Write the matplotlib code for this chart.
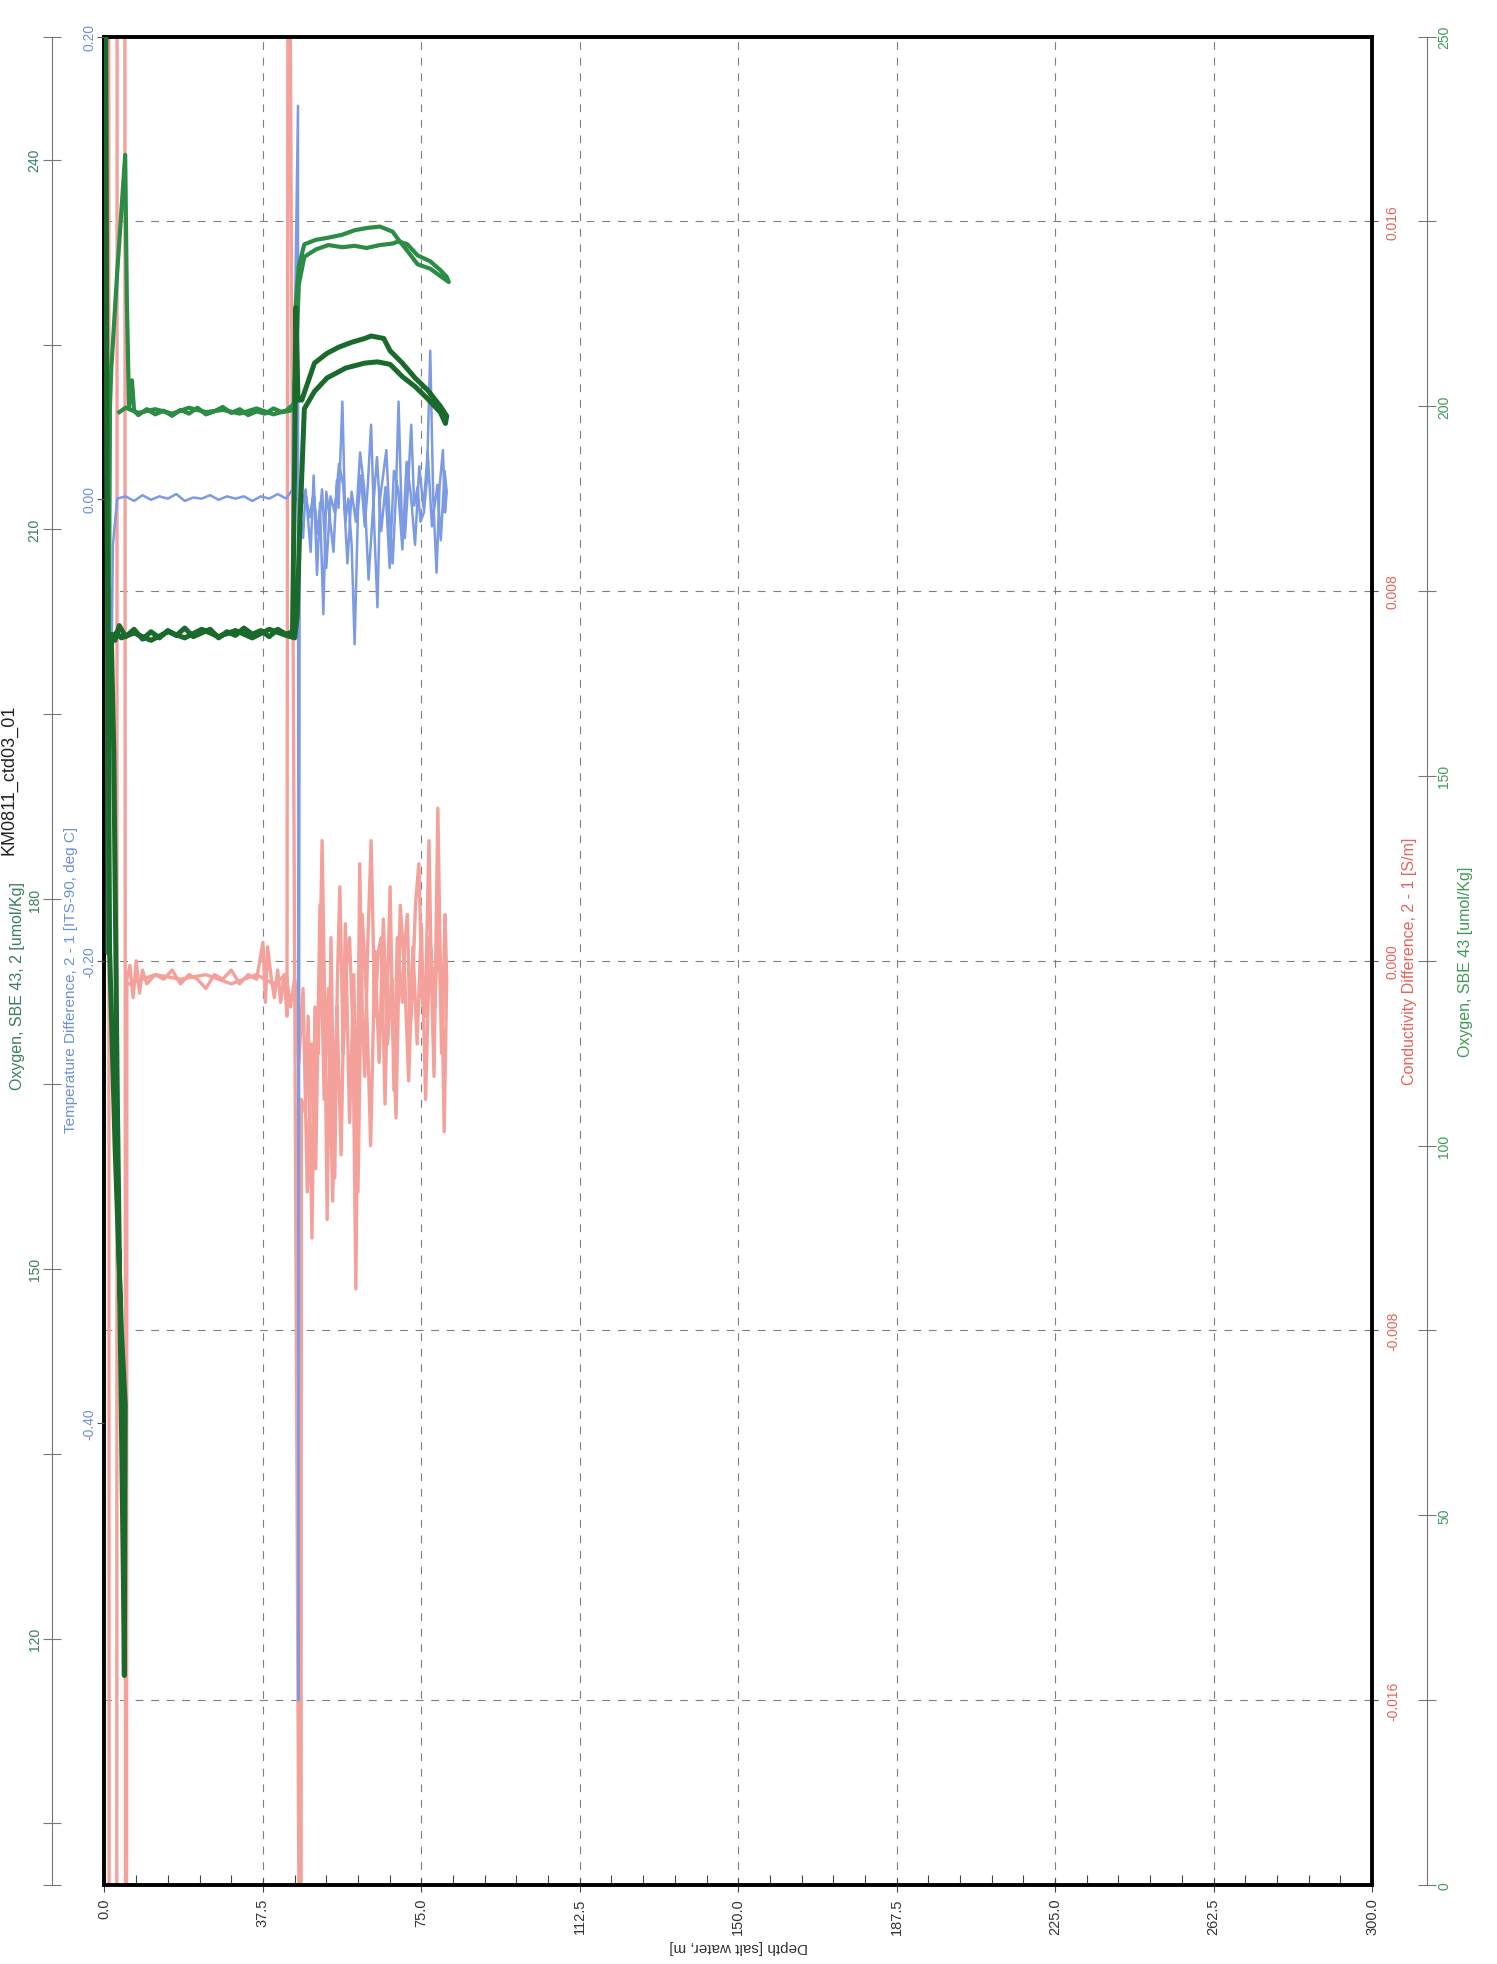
import matplotlib
matplotlib.use('Agg')
import matplotlib.pyplot as plt
from matplotlib.ticker import FixedLocator, MultipleLocator

plt.rcParams['font.family'] = ['Liberation Sans', 'DejaVu Sans']

# ---------------- data (depth [m], value) ----------------
depth_ticks = [0.0, 37.5, 75.0, 112.5, 150.0, 187.5, 225.0, 262.5, 300.0]
cond_ticks = [-0.016, -0.008, 0.0, 0.008, 0.016]
temp_ticks = [-0.40, -0.20, 0.00, 0.20]
oxy_ticks = [0, 50, 100, 150, 200, 250]
oxy_minor = [25, 75, 125, 175, 225]
oxy2_ticks = [120, 150, 180, 210, 240]
oxy2_minor = [100, 105, 135, 165, 195, 225, 250]

# conductivity difference 2-1 [S/m]
cond_surface = [(1.0, 0.03), (1.1, -0.03), (2.9, -0.03), (3.0, 0.03), (4.8, 0.03),
                (5.0, -0.03), (5.2, -0.03)]
cond_flat = [(5.3, -0.0004), (6.0, -0.0001), (6.8, -0.0008), (7.5, 0.0), (8.3, -0.0007),
             (9.0, -0.0002), (10, -0.0005), (12, -0.0003), (14, -0.0004), (16, -0.0002),
             (18, -0.0005), (20, -0.0003), (22, -0.0004), (24, -0.0006), (26, -0.0003),
             (28, -0.0004), (30, -0.0002), (32, -0.0005), (34, -0.0003), (36, -0.0004),
             (37.5, 0.0004), (38.1, -0.0009), (38.6, 0.0003), (39.5, -0.0004),
             (40.2, -0.0008), (41.0, -0.0002), (41.7, -0.0009), (42.5, -0.0003),
             (43.2, -0.0012)]
cond_spike = [(43.5, 0.03), (46.5, -0.03)]
cond_down = [(46.6, -0.0030), (47.6, -0.0033), (48.2, -0.0012), (49.1, -0.0060),
             (49.8, -0.0010), (50.6, -0.0020), (51.5, 0.0026), (52.1, -0.0008),
             (52.7, -0.0056), (53.6, 0.0005), (54.5, -0.0047), (55.1, -0.0005),
             (55.7, 0.0016), (56.5, -0.0020), (57.2, -0.0002), (58.0, 0.0005),
             (58.8, -0.0015), (59.5, -0.0071), (60.4, 0.0021), (61.0, -0.0010),
             (61.6, -0.0025), (62.3, 0.0003), (63.1, 0.0026), (64.0, -0.0012),
             (64.8, 0.0002), (65.5, 0.0005), (66.4, -0.0031), (67.0, -0.0006),
             (67.6, 0.0016), (68.5, -0.0028), (69.3, 0.0005), (70.5, -0.0009),
             (71.1, 0.0004), (71.7, 0.0010), (72.3, -0.0015), (72.9, -0.0006),
             (73.6, 0.0012), (74.4, 0.0021), (75.2, -0.0008), (75.9, -0.0012),
             (76.8, 0.0026), (77.4, -0.0005), (78.0, -0.0025), (78.9, 0.0033),
             (79.5, -0.0001), (80.0, -0.0015), (80.4, -0.0037), (81.0, -0.0004)]
cond_up = [(80.6, 0.0010), (79.8, -0.0020), (79.0, 0.0012), (78.2, -0.0010), (77.0, 0.0005),
           (76.0, -0.0030), (75.0, 0.0008), (74.0, -0.0018), (73.0, 0.0003), (72.0, -0.0026),
           (71.0, -0.0002), (70.0, 0.0012), (69.0, -0.0034), (68.0, -0.0004), (67.0, -0.0018),
           (66.0, 0.0009), (65.0, -0.0022), (64.0, 0.0002), (63.0, -0.0040), (62.0, -0.0008),
           (61.0, 0.0010), (60.0, -0.0050), (59.0, -0.0003), (58.0, -0.0035), (57.0, 0.0008),
           (56.0, -0.0042), (55.0, -0.0010), (54.0, -0.0052), (53.0, -0.0006), (52.0, -0.0030),
           (51.0, 0.0012), (50.0, -0.0045), (49.0, -0.0018), (48.0, -0.0050), (47.0, -0.0006),
           (46.0, -0.0022), (45.0, -0.0004), (44.0, -0.0010), (43.0, -0.0003), (40.0, -0.0005),
           (36.0, -0.0003), (30.0, -0.0005), (24.0, -0.0003), (18.0, -0.0004), (12.0, -0.0003),
           (6.0, -0.0005)]

# temperature difference 2-1 [deg C]
temp_surface = [(0.5, 0.02), (1.2, -0.14), (2.0, -0.02), (3.0, 0.0)]
temp_flat = [(5, 0.001), (7, -0.001), (9, 0.0015), (11, -0.0005), (13, 0.001), (15, 0.0),
             (17, 0.002), (19, -0.001), (21, 0.0005), (23, 0.0), (25, 0.0015), (27, -0.0005),
             (29, 0.001), (31, 0.0), (33, 0.001), (35, -0.001), (37, 0.001), (39, 0.0),
             (41, 0.002), (43, 0.0), (44.5, 0.004)]
temp_spike = [(45.8, 0.17), (45.9, -0.52), (46.2, -0.005)]
temp_down = [(47.0, -0.017), (47.6, 0.004), (48.8, -0.023), (49.5, 0.01), (50.3, -0.033),
             (51.0, -0.002), (51.8, -0.05), (52.5, 0.003), (53.3, -0.008), (54.2, -0.023),
             (55.0, 0.008), (55.4, -0.004), (56.3, 0.042), (57.0, -0.01), (57.7, 0.0),
             (58.5, -0.02), (59.2, -0.063), (60.0, -0.005), (60.7, 0.01), (61.6, -0.012),
             (62.3, 0.005), (63.1, 0.032), (63.8, -0.01), (64.6, -0.047), (65.2, 0.0),
             (65.8, 0.008), (66.7, 0.021), (67.5, -0.01), (68.2, -0.028), (69.0, 0.003),
             (69.6, 0.042), (70.3, -0.005), (71.1, -0.017), (71.8, 0.004), (72.6, 0.032),
             (73.3, -0.003), (74.1, 0.005), (74.8, -0.01), (75.6, -0.006), (76.3, 0.008),
             (77.1, 0.064), (77.8, 0.0), (78.6, -0.032), (79.3, 0.005), (80.1, 0.021),
             (80.6, -0.006), (81.0, 0.003)]
temp_up = [(80.5, 0.012), (79.6, -0.018), (78.8, 0.006), (77.5, -0.012), (76.5, 0.02),
           (75.5, -0.004), (74.5, 0.014), (73.5, -0.02), (72.5, 0.002), (71.5, 0.016),
           (70.5, -0.022), (69.5, 0.004), (68.5, 0.012), (67.5, -0.03), (66.5, 0.005),
           (65.5, -0.014), (64.5, 0.018), (63.5, -0.006), (62.5, -0.035), (61.5, 0.004),
           (60.5, 0.02), (59.5, -0.01), (58.5, 0.003), (57.5, -0.028), (56.5, 0.006),
           (55.5, 0.015), (54.5, -0.006), (53.5, 0.001), (52.5, -0.03), (51.5, 0.004),
           (50.5, -0.015), (49.5, 0.002), (48.5, -0.008), (47.5, 0.003), (46.5, -0.004),
           (45.5, 0.0)]

# oxygen, SBE 43 [umol/kg] (right axis)
oxy_surface = [(0.1, 262), (0.4, 220), (0.6, 170), (0.8, 126), (1.0, 165), (1.3, 200),
               (1.6, 205), (3.0, 218), (4.9, 234), (5.3, 214), (5.8, 200)]
oxy_flat = [(6.5, 203.5), (7, 199.4), (8, 198.8), (10, 199.6), (12, 198.9), (14, 199.4),
            (16, 198.7), (18, 199.5), (20, 199.0), (22, 199.8), (24, 198.9), (26, 199.3),
            (28, 199.9), (30, 199.1), (32, 199.6), (34, 198.8), (36, 199.3), (38, 199.0),
            (40, 199.7), (42, 199.2), (44, 199.4), (44.9, 199.8)]
oxy_down = [(45.2, 213), (46.0, 219), (47.3, 221.9), (50, 222.5), (53, 222.8), (56.3, 223.2),
            (59.2, 223.8), (62, 224.1), (65.2, 224.3), (68.2, 223.6), (69.6, 222.5),
            (71.7, 221.0), (74.1, 219.2), (77.1, 218.6), (79.5, 217.6), (81.5, 216.8)]
oxy_up = [(81.0, 217.5), (79.5, 218.4), (77.1, 219.6), (74.1, 220.4), (71.7, 221.9),
          (69.6, 222.3), (68.2, 222.0), (65.2, 221.8), (62, 221.4), (59.2, 221.7),
          (56.3, 221.5), (53, 221.8), (50, 221.2), (47.3, 220.2), (46, 216.5), (45.3, 206),
          (44.8, 200.3), (43, 199.4), (40, 198.9), (36, 199.7), (32, 199.0), (28, 199.5),
          (24, 199.2), (20, 199.8), (16, 199.0), (12, 199.6), (8, 199.1), (5, 199.8),
          (3.5, 199.2)]

# oxygen, SBE 43, 2 [umol/kg] (left axis)
oxy2_surface = [(0.2, 262), (0.6, 215), (1.2, 176), (2.5, 160), (4.0, 145), (4.9, 139),
                (4.8, 128), (4.7, 117), (4.5, 124), (3.0, 165), (2.2, 192), (1.6, 201.5)]
oxy2_flat = [(2.5, 201.0), (3.5, 202.2), (5, 201.3), (7, 201.9), (9, 201.1), (11, 201.7),
             (13, 201.2), (15, 201.8), (17, 201.4), (19, 202.0), (21, 201.3), (23, 201.6),
             (25, 201.9), (27, 201.2), (29, 201.7), (31, 201.4), (33, 202.0), (35, 201.5),
             (37, 201.8), (39, 201.3), (41, 201.9), (43, 201.5), (44.5, 201.7)]
oxy2_down = [(45.0, 215), (45.3, 228.0), (45.8, 220.5), (46.7, 220.5), (49.7, 223.5),
             (52.7, 224.3), (55.5, 224.8), (58.6, 225.2), (61.6, 225.5), (63.1, 225.7),
             (66.1, 225.5), (67.6, 224.5), (70.5, 223.5), (73.5, 222.3), (76.5, 221.3),
             (79.5, 220.0), (81.0, 219.2)]
oxy2_up = [(80.7, 218.6), (79.5, 219.5), (76.5, 220.6), (73.5, 221.6), (70.5, 222.4),
           (67.6, 223.4), (64.6, 223.6), (61.6, 223.5), (57.1, 223.1), (52.7, 222.3),
           (49.7, 221.2), (47.3, 219.8), (46.2, 210), (45.6, 203), (45.0, 201.2), (43, 201.4),
           (39, 201.9), (35, 201.2), (31, 201.8), (27, 201.3), (23, 201.9), (19, 201.2),
           (15, 201.7), (11, 201.0), (7, 201.6), (4, 201.2), (2.8, 201.6)]

PINK = '#f5a19b'
BLUE = '#7d9be3'
GREEN_A = '#2b8c45'
GREEN_B = '#1a6a2c'
RED_TXT = '#e5635b'
BLUE_TXT = '#6d8fd8'
GREEN_TXT_R = '#3f9a58'
GREEN_TXT_L = '#3a7d5c'


def xy(*parts):
    pts = [p for part in parts for p in part]
    return [p[0] for p in pts], [p[1] for p in pts]


fig = plt.figure(figsize=(14.97, 19.65), dpi=100)
ax = fig.add_axes([0.0698, 0.0402, 0.8467, 0.9407])
ax_t = ax.twinx()
ax_o = ax.twinx()
ax_o2 = ax.twinx()
for a in (ax_t, ax_o, ax_o2):
    for s in a.spines.values():
        s.set_visible(False)

# host axes: depth vs conductivity difference
ax.set_xlim(0, 300)
ax.set_ylim(-0.02, 0.02)
ax.plot(*xy(cond_surface, cond_flat, cond_spike, cond_down, cond_up),
        color=PINK, lw=2.4, solid_joinstyle='round')
for s in ax.spines.values():
    s.set_linewidth(2.8)
    s.set_color('black')
ax.grid(True, which='major', color='#7f7f7f', linestyle=(0, (7, 7)), linewidth=0.8)

ax.set_xticks(depth_ticks)
ax.set_xticklabels([f'{v:.1f}' for v in depth_ticks], rotation=90, ha='center', va='top')
ax.xaxis.set_minor_locator(MultipleLocator(7.5))
ax.tick_params(axis='x', which='major', direction='inout', length=10, width=0.8,
               pad=4, labelsize=10.5, labelcolor='#333333', color='#444444')
ax.tick_params(axis='x', which='minor', direction='in', length=7, width=0.8, color='#444444')
ax.set_xlabel('Depth [salt water, m]', rotation=180, fontsize=11, color='#333333')
ax.xaxis.set_label_coords(0.5, -0.029)

ax.yaxis.tick_right()
ax.yaxis.set_label_position('right')
ax.set_yticks(cond_ticks)
ax.set_yticklabels([f'{v:.3f}' for v in cond_ticks], rotation=90, va='center', ha='left')
ax.tick_params(axis='y', direction='out', length=4, width=0.8, pad=6, labelsize=10,
               labelcolor=RED_TXT, color='#555555')
ax.set_ylabel('Conductivity Difference, 2 - 1 [S/m]', color=RED_TXT, fontsize=11.5)
ax.yaxis.set_label_coords(1.0236, 0.5)

# temperature difference (left, inner)
ax_t.set_ylim(-0.6, 0.2)
ax_t.plot(*xy(temp_surface, temp_flat, temp_spike, temp_down, temp_up),
          color=BLUE, lw=1.8, solid_joinstyle='round')
ax_t.yaxis.tick_left()
ax_t.yaxis.set_label_position('left')
ax_t.set_yticks(temp_ticks)
ax_t.set_yticklabels([f'{v:.2f}' for v in temp_ticks], rotation=90, va='center', ha='right')
ax_t.tick_params(axis='y', direction='out', length=5, width=0.8, pad=1, labelsize=10,
                 labelcolor=BLUE_TXT, color='#555555')
ax_t.set_ylabel('Temperature Difference, 2 - 1 [ITS-90, deg C]', color=BLUE_TXT, fontsize=11)
ax_t.yaxis.set_label_coords(-0.0209, 0.49)

# oxygen SBE 43 (right, outer)
ax_o.set_ylim(0, 250)
ax_o.plot(*xy(oxy_surface, oxy_flat, oxy_down, oxy_up), color=GREEN_A, lw=3.0,
          solid_joinstyle='round')
ax_o.spines['right'].set_visible(True)
ax_o.spines['right'].set_position(('outward', 39.6))
ax_o.spines['right'].set_color('#777777')
ax_o.spines['right'].set_linewidth(0.8)
ax_o.yaxis.tick_right()
ax_o.set_yticks(oxy_ticks)
ax_o.set_yticklabels([str(v) for v in oxy_ticks], rotation=90, va='center', ha='left')
ax_o.yaxis.set_minor_locator(FixedLocator(oxy_minor))
ax_o.tick_params(axis='y', which='both', direction='inout', length=13, width=0.8, pad=1,
                 labelsize=10, labelcolor=GREEN_TXT_R, color='#777777')
ax_o.set_ylabel('Oxygen, SBE 43 [umol/Kg]', color=GREEN_TXT_R, fontsize=11.5)
ax_o.yaxis.set_label_coords(1.068, 0.5)

# oxygen SBE 43, 2 (left, outer)
ax_o2.set_ylim(100, 250)
ax_o2.plot(*xy(oxy2_surface, oxy2_flat, oxy2_down, oxy2_up), color=GREEN_B, lw=3.6,
           solid_joinstyle='round')
ax_o2.spines['left'].set_visible(True)
ax_o2.spines['left'].set_position(('outward', 37.8))
ax_o2.spines['left'].set_color('#777777')
ax_o2.spines['left'].set_linewidth(0.8)
ax_o2.yaxis.tick_left()
ax_o2.yaxis.set_label_position('left')
ax_o2.set_yticks(oxy2_ticks)
ax_o2.set_yticklabels([str(v) for v in oxy2_ticks], rotation=90, va='center', ha='right')
ax_o2.yaxis.set_minor_locator(FixedLocator(oxy2_minor))
ax_o2.tick_params(axis='y', which='both', direction='inout', length=13, width=0.8, pad=1,
                  labelsize=10, labelcolor=GREEN_TXT_L, color='#777777')
ax_o2.set_ylabel('Oxygen, SBE 43, 2 [umol/Kg]', color=GREEN_TXT_L, fontsize=11.5)
ax_o2.yaxis.set_label_coords(-0.0627, 0.487)

# cast title at the page edge
fig.text(0.0005, 0.603, 'KM0811_ctd03_01', rotation=90, fontsize=13, ha='left',
         va='center', color='#222222')

fig.savefig('out.png', dpi=100)
